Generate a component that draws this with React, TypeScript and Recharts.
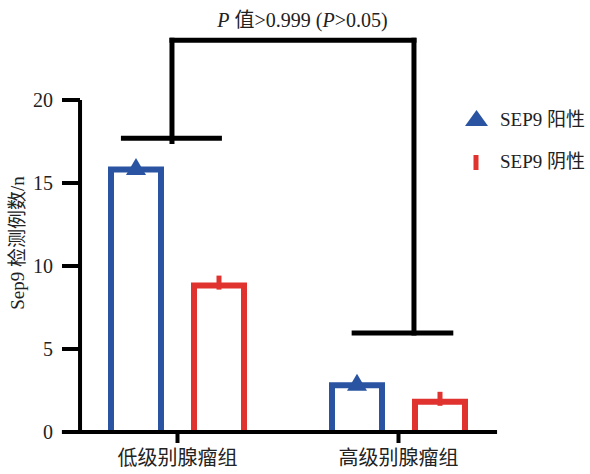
import React from 'react';
import { ComposedChart, Bar, XAxis, YAxis, ReferenceLine, Legend } from 'recharts';

// ---- data ----
const groups = ['低级别腺瘤组', '高级别腺瘤组'];
const positiveCounts = [16, 3];
const negativeCounts = [9, 2];
const yTicks = [0, 5, 10, 15, 20];
const seriesNames = ['SEP9 阳性', 'SEP9 阴性'];
const yAxisTitle = 'Sep9 检测例数/n';

// significance bracket (x as a fraction of the category axis width: group i spans [i/2, (i+1)/2]; y in data units)
const bracketTopY = 23.6;
const bracketLeftX = 0.2375;
const bracketRightX = 0.785;
const leftArmY = 17.7;
const leftArmRange = [0.122, 0.3505];
const rightArmY = 5.96;
const rightArmRange = [0.644, 0.874];
const xAxisLineRange = [-0.0115, 0.973];
const yAxisLineX = 0.0295;

const BLUE = '#2A54A2';
const RED = '#E0322F';
const SERIF = '"Liberation Serif", "Times New Roman", "Noto Sans CJK SC", serif';
const CJK = '"Noto Sans CJK SC", sans-serif';

const data = groups.map((g, i) => ({ group: g, pos: positiveCounts[i], neg: negativeCounts[i] }));

const SW = 6;

const OutlineBar = (color: string, marker: 'tri' | 'line') => (props: any) => {
  const { x, y, width, height } = props;
  if (width == null || height == null) return null;
  const h = SW / 2;
  const cx = x + width / 2;
  const d = `M${x + h},${y + height} V${y + h} H${x + width - h} V${y + height}`;
  return (
    <g>
      <path d={d} fill="none" stroke={color} strokeWidth={SW} />
      {marker === 'tri' ? (
        <polygon points={`${cx - 10},${y + 8.5} ${cx + 10},${y + 8.5} ${cx},${y - 8.5}`} fill={color} />
      ) : (
        <rect x={cx - 2.5} y={y - 7} width={5} height={14} fill={color} />
      )}
    </g>
  );
};

const YTick = (props: any) => {
  const { x, y, payload } = props;
  return (
    <g>
      <line x1={x - 5} x2={x + 13} y1={y} y2={y} stroke="#000" strokeWidth={4} />
      <text x={x - 14} y={y} textAnchor="end" dominantBaseline="central" fontSize={20} fontFamily={SERIF} fill="#222">
        {payload.value}
      </text>
    </g>
  );
};

const YLabel = () => (
  <text
    x={17}
    y={243}
    transform="rotate(-90 17 243)"
    textAnchor="middle"
    dominantBaseline="central"
    fontSize={19}
    fontFamily={SERIF}
    fill="#222"
  >
    {yAxisTitle}
  </text>
);

const TitleLabel = (props: any) => {
  const vb = props.viewBox || {};
  const cx = (vb.x || 0) + (vb.width || 0) / 2 + 9.5;
  const by = (vb.y || 0) - 13;
  return (
    <text x={cx} y={by} textAnchor="middle" fontSize={20} fontFamily={SERIF} fill="#222">
      <tspan fontStyle="italic">P</tspan>
      <tspan> 值&gt;0.999 (</tspan>
      <tspan fontStyle="italic">P</tspan>
      <tspan>&gt;0.05)</tspan>
    </text>
  );
};

const LegendContent = () => (
  <svg width={130} height={80} style={{ display: 'block' }}>
    <polygon points="5,26 28,26 16.5,10" fill={BLUE} />
    <text x={40} y={25.5} fontSize={19} fontFamily={SERIF} fill="#222">{seriesNames[0]}</text>
    <rect x={13.5} y={55} width={5} height={15} fill={RED} />
    <text x={40} y={67.5} fontSize={19} fontFamily={SERIF} fill="#222">{seriesNames[1]}</text>
  </svg>
);

export default function App() {
  return (
    <div style={{ width: 590, height: 474, background: '#fff' }}>
      <style>{`body{margin:0;background:#fff}`}</style>
      <ComposedChart
        width={590}
        height={474}
        data={data}
        margin={{ top: 100, right: 81, bottom: 0, left: 0 }}
        barGap={27}
      >
        <XAxis
          xAxisId="cat"
          dataKey="group"
          height={42}
          axisLine={false}
          tickLine={{ stroke: '#000', strokeWidth: 4 }}
          tickSize={11}
          tickMargin={8}
          tick={{ fill: '#222', fontSize: 20, fontFamily: CJK }}
        />
        <XAxis xAxisId="num" type="number" domain={[0, 1]} allowDataOverflow hide />
        <YAxis
          width={67}
          domain={[0, 20]}
          ticks={yTicks}
          axisLine={false}
          tickLine={false}
          tickSize={0}
          tickMargin={0}
          tick={<YTick />}
          label={<YLabel />}
        />
        <Bar xAxisId="cat" dataKey="pos" name={seriesNames[0]} barSize={56} fill="none" shape={OutlineBar(BLUE, 'tri')} isAnimationActive={false} />
        <Bar xAxisId="cat" dataKey="neg" name={seriesNames[1]} barSize={56} fill="none" shape={OutlineBar(RED, 'line')} isAnimationActive={false} />
        {/* axes lines */}
        <ReferenceLine xAxisId="num" ifOverflow="visible" stroke="#000" strokeWidth={4}
          segment={[{ x: xAxisLineRange[0], y: 0 }, { x: xAxisLineRange[1], y: 0 }]} />
        <ReferenceLine xAxisId="num" ifOverflow="visible" stroke="#000" strokeWidth={4}
          segment={[{ x: yAxisLineX, y: 0 }, { x: yAxisLineX, y: 20 }]} />
        {/* bracket */}
        <ReferenceLine xAxisId="num" ifOverflow="visible" stroke="#000" strokeWidth={5} strokeLinecap="square"
          segment={[{ x: bracketLeftX, y: bracketTopY }, { x: bracketRightX, y: bracketTopY }]}
          label={<TitleLabel />} />
        <ReferenceLine xAxisId="num" ifOverflow="visible" stroke="#000" strokeWidth={5} strokeLinecap="square"
          segment={[{ x: bracketLeftX, y: bracketTopY }, { x: bracketLeftX, y: leftArmY - 0.2 }]} />
        <ReferenceLine xAxisId="num" ifOverflow="visible" stroke="#000" strokeWidth={5} strokeLinecap="square"
          segment={[{ x: bracketRightX, y: bracketTopY }, { x: bracketRightX, y: rightArmY }]} />
        <ReferenceLine xAxisId="num" ifOverflow="visible" stroke="#000" strokeWidth={5}
          segment={[{ x: leftArmRange[0], y: leftArmY }, { x: leftArmRange[1], y: leftArmY }]} />
        <ReferenceLine xAxisId="num" ifOverflow="visible" stroke="#000" strokeWidth={5}
          segment={[{ x: rightArmRange[0], y: rightArmY }, { x: rightArmRange[1], y: rightArmY }]} />
        <Legend
          layout="horizontal"
          verticalAlign="middle"
          align="center"
          wrapperStyle={{ position: 'absolute', top: 100, left: 460, width: 130, height: 80 }}
          content={<LegendContent />}
        />
      </ComposedChart>
    </div>
  );
}
